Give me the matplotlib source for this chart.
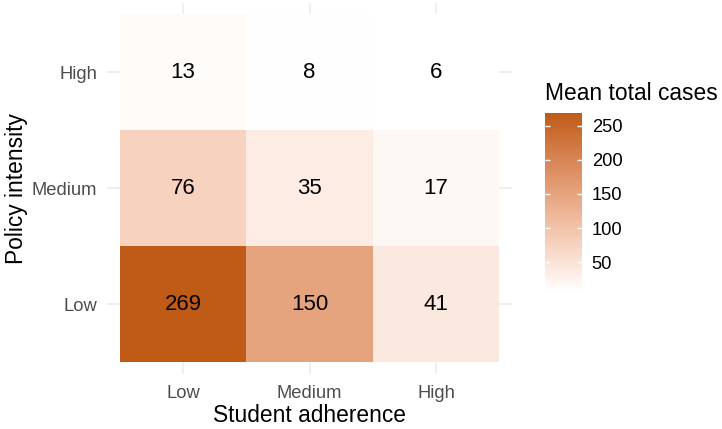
import numpy as np
import matplotlib
matplotlib.use("Agg")
import matplotlib.pyplot as plt
from matplotlib.colors import ListedColormap, Normalize
import matplotlib.cm as cm

plt.rcParams['font.family'] = ['Liberation Sans', 'DejaVu Sans']

# Data
adherence = ["Low", "Medium", "High"]          # x categories
policy = ["Low", "Medium", "High"]             # y categories (bottom to top)
# rows = policy (Low, Medium, High), cols = adherence (Low, Medium, High)
cases_low_policy = [269, 150, 41]
cases_medium_policy = [76, 35, 17]
cases_high_policy = [13, 8, 6]
cbar_ticks = [50, 100, 150, 200, 250]

values = np.array([cases_low_policy, cases_medium_policy, cases_high_policy], dtype=float)

# Lab-space gradient (like ggplot2 scale_fill_gradient)
def srgb_to_lab(rgb):
    rgb = np.asarray(rgb, dtype=float)
    lin = np.where(rgb <= 0.04045, rgb / 12.92, ((rgb + 0.055) / 1.055) ** 2.4)
    M = np.array([[0.4124564, 0.3575761, 0.1804375],
                  [0.2126729, 0.7151522, 0.0721750],
                  [0.0193339, 0.1191920, 0.9503041]])
    xyz = M @ lin
    wp = np.array([0.95047, 1.0, 1.08883])
    t = xyz / wp
    d = 6 / 29
    f = np.where(t > d ** 3, np.cbrt(t), t / (3 * d * d) + 4 / 29)
    return np.array([116 * f[1] - 16, 500 * (f[0] - f[1]), 200 * (f[1] - f[2])])

def lab_to_srgb(lab):
    L, a, b = lab
    fy = (L + 16) / 116
    fx = fy + a / 500
    fz = fy - b / 200
    d = 6 / 29
    def finv(f):
        return f ** 3 if f > d else 3 * d * d * (f - 4 / 29)
    wp = np.array([0.95047, 1.0, 1.08883])
    xyz = np.array([finv(fx), finv(fy), finv(fz)]) * wp
    Minv = np.array([[3.2404542, -1.5371385, -0.4985314],
                     [-0.9692660, 1.8760108, 0.0415560],
                     [0.0556434, -0.2040259, 1.0572252]])
    lin = Minv @ xyz
    lin = np.clip(lin, 0, 1)
    rgb = np.where(lin <= 0.0031308, 12.92 * lin, 1.055 * lin ** (1 / 2.4) - 0.055)
    return np.clip(rgb, 0, 1)

low_c = srgb_to_lab([1.0, 1.0, 1.0])
high_c = srgb_to_lab(np.array([0xBF, 0x5B, 0x17]) / 255.0)
cols = [lab_to_srgb(low_c + (high_c - low_c) * t) for t in np.linspace(0, 1, 256)]
cmap = ListedColormap(cols)
norm = Normalize(vmin=values.min(), vmax=values.max())

fig = plt.figure(figsize=(7.22, 4.29), dpi=100)
ax = fig.add_axes([107 / 722, 1 - 374 / 429, (512 - 107) / 722, (374 - 2.5) / 429])

ax.set_xlim(-0.6, 2.6)
ax.set_ylim(-0.6, 2.6)
ax.set_xticks(range(3))
ax.set_yticks(range(3))
ax.grid(True, color="#EBEBEB", linewidth=1.1, zorder=0)
ax.set_axisbelow(True)
for s in ax.spines.values():
    s.set_visible(False)
ax.tick_params(length=0, labelsize=13.2, labelcolor="#4D4D4D", pad=7)
ax.tick_params(axis="x", pad=8)
ax.set_xticklabels(adherence)
ax.set_yticklabels(policy)

ax.pcolormesh(np.arange(-0.5, 3.0, 1.0), np.arange(-0.5, 3.0, 1.0), values,
              cmap=cmap, norm=norm, zorder=2, edgecolor='none', antialiased=False)
for i in range(3):
    for j in range(3):
        ax.text(j, i, f"{int(values[i, j])}", ha="center", va="center",
                fontsize=16, color="black", zorder=3)

ax.set_xlabel("Student adherence", fontsize=16.4, labelpad=1.5)
ax.set_ylabel("Policy intensity", fontsize=16.4, labelpad=3)

cax = fig.add_axes([545 / 722, 1 - 292 / 429, 37 / 722, (292 - 113) / 429])
cb = fig.colorbar(cm.ScalarMappable(norm=norm, cmap=cmap), cax=cax)
cb.outline.set_visible(False)
cb.set_ticks(cbar_ticks)
cb.ax.tick_params(direction="in", length=3.5, width=1, color="white",
                  left=True, right=True, labelleft=False, labelright=True,
                  labelsize=13.2, labelcolor="black", pad=7)
fig.text(545 / 722, 1 - 93 / 429, "Mean total cases", fontsize=16.4,
         ha="left", va="center")

fig.savefig("out.png", dpi=100)
